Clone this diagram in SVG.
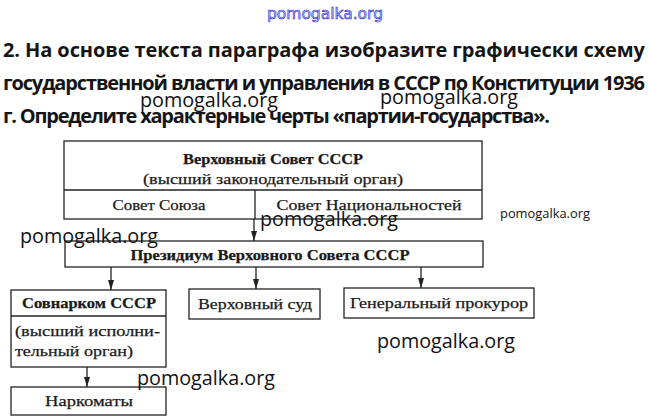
<svg xmlns="http://www.w3.org/2000/svg" width="649" height="418" viewBox="0 0 649 418">
<style>
.h{font-family:"Open Sans","Liberation Sans",sans-serif;font-weight:700;font-size:20px;fill:#151515}
.wm{font-family:"Open Sans","Liberation Sans",sans-serif;font-size:20px;fill:#111}
.t{font-family:"Liberation Serif","DejaVu Serif",serif;font-size:15px;fill:#1a1a1a;stroke:#1a1a1a;stroke-width:0.25}
.b{font-weight:700}
.box{fill:none;stroke:#222;stroke-width:1.3}
.c{stroke:#222;stroke-width:1.3;fill:none}
</style>
<defs>
<marker id="ah" viewBox="0 0 10 6" refX="10" refY="3" markerWidth="10" markerHeight="6" markerUnits="userSpaceOnUse" orient="auto">
<path d="M0,0 L10,3 L0,6 z" fill="#222"/>
</marker>
</defs>
<rect width="649" height="418" fill="#fff"/>

<g id="heading">
<text class="h" x="3" y="57" textLength="642" lengthAdjust="spacing">2. На основе текста параграфа изобразите графически схему</text>
<text class="h" x="3" y="90" textLength="642" lengthAdjust="spacing">государственной власти и управления в СССР по Конституции 1936</text>
<text class="h" x="3" y="123" textLength="547" lengthAdjust="spacing">г. Определите характерные черты «партии-государства».</text>
</g>

<g id="connectors">
<line class="c" x1="254" y1="219" x2="254" y2="241" marker-end="url(#ah)"/>
<line class="c" x1="111" y1="267" x2="111" y2="290" marker-end="url(#ah)"/>
<line class="c" x1="256" y1="267" x2="256" y2="289" marker-end="url(#ah)"/>
<line class="c" x1="421" y1="267" x2="421" y2="288" marker-end="url(#ah)"/>
<line class="c" x1="87" y1="367" x2="87" y2="387" marker-end="url(#ah)"/>
</g>

<g id="supreme-soviet">
<rect class="box" x="64" y="141" width="418" height="78"/>
<line class="c" x1="64" y1="190" x2="482" y2="190"/>
<line class="c" x1="255" y1="190" x2="255" y2="219"/>
<text class="t b" x="273" y="164" text-anchor="middle" textLength="180" lengthAdjust="spacingAndGlyphs">Верховный Совет СССР</text>
<text class="t" x="273" y="184" text-anchor="middle" textLength="260" lengthAdjust="spacingAndGlyphs">(высший законодательный орган)</text>
<text class="t" x="159" y="210" text-anchor="middle" textLength="93" lengthAdjust="spacingAndGlyphs">Совет Союза</text>
<text class="t" x="369" y="210" text-anchor="middle" textLength="185" lengthAdjust="spacingAndGlyphs">Совет Национальностей</text>
</g>

<g id="presidium">
<rect class="box" x="65" y="241" width="418" height="26"/>
<text class="t b" x="270" y="260" text-anchor="middle" textLength="279" lengthAdjust="spacingAndGlyphs">Президиум Верховного Совета СССР</text>
</g>

<g id="sovnarkom">
<rect class="box" x="11" y="290" width="155" height="77"/>
<line class="c" x1="11" y1="316" x2="166" y2="316"/>
<text class="t b" x="89" y="308" text-anchor="middle" textLength="134" lengthAdjust="spacingAndGlyphs">Совнарком СССР</text>
<text class="t" x="15" y="336" textLength="145" lengthAdjust="spacingAndGlyphs">(высший исполни-</text>
<text class="t" x="15" y="356" textLength="118" lengthAdjust="spacingAndGlyphs">тельный орган)</text>
</g>

<g id="narkomaty">
<rect class="box" x="11" y="387" width="155" height="28"/>
<text class="t" x="89" y="406" text-anchor="middle" textLength="88" lengthAdjust="spacingAndGlyphs">Наркоматы</text>
</g>

<g id="supreme-court">
<rect class="box" x="189" y="289" width="131" height="30"/>
<text class="t" x="255" y="309" text-anchor="middle" textLength="114" lengthAdjust="spacingAndGlyphs">Верховный суд</text>
</g>

<g id="prosecutor">
<rect class="box" x="344" y="288" width="190" height="30"/>
<text class="t" x="439" y="308" text-anchor="middle" textLength="178" lengthAdjust="spacingAndGlyphs">Генеральный прокурор</text>
</g>

<g id="watermarks">
<text x="325" y="19" text-anchor="middle" textLength="116" lengthAdjust="spacingAndGlyphs" style="font-family:'DejaVu Sans',sans-serif;font-size:16px;fill:#c4c4f2;stroke:#2a2ad0;stroke-width:0.6">pomogalka.org</text>
<text class="wm" x="140" y="107" textLength="138" lengthAdjust="spacingAndGlyphs">pomogalka.org</text>
<text class="wm" x="380" y="104" textLength="138" lengthAdjust="spacingAndGlyphs">pomogalka.org</text>
<text class="wm" x="260" y="226" textLength="138" lengthAdjust="spacingAndGlyphs">pomogalka.org</text>
<text class="wm" x="500" y="218" textLength="90" lengthAdjust="spacingAndGlyphs" style="font-size:13px">pomogalka.org</text>
<text class="wm" x="20" y="243" textLength="138" lengthAdjust="spacingAndGlyphs">pomogalka.org</text>
<text class="wm" x="377" y="348" textLength="138" lengthAdjust="spacingAndGlyphs">pomogalka.org</text>
<text class="wm" x="137" y="385" textLength="138" lengthAdjust="spacingAndGlyphs">pomogalka.org</text>
</g>
</svg>
